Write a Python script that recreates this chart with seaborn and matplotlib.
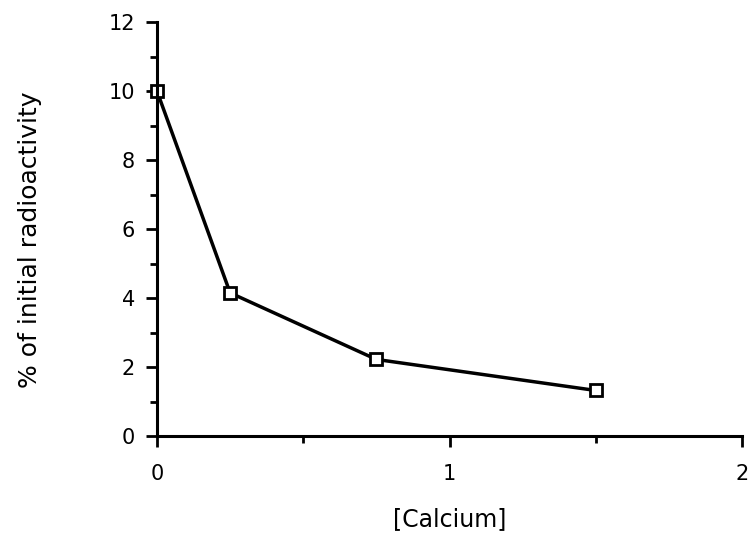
import matplotlib
matplotlib.use("Agg")
import matplotlib.pyplot as plt
import seaborn as sns
import pandas as pd
from matplotlib.ticker import MultipleLocator

calcium = [0.0, 0.25, 0.75, 1.5]
radioactivity = [10.0, 4.15, 2.22, 1.32]
x_ticks = [0, 1, 2]
y_ticks = [0, 2, 4, 6, 8, 10, 12]

sns.set_style("ticks")
plt.rcParams['font.family'] = ['DejaVu Sans']
plt.rcParams['text.color'] = 'black'
plt.rcParams['axes.labelcolor'] = 'black'
plt.rcParams['xtick.color'] = 'black'
plt.rcParams['ytick.color'] = 'black'

df = pd.DataFrame({"Calcium": calcium, "Radio": radioactivity})

fig = plt.figure(figsize=(7.49, 5.4), dpi=100)
ax = fig.add_axes([0.2096, 0.1926, 0.7811, 0.7664])
sns.lineplot(data=df, x="Calcium", y="Radio", ax=ax, color="black", linewidth=2.5,
             marker="s", markersize=8, markerfacecolor="white", markeredgecolor="black",
             markeredgewidth=2)

ax.set_xlim(0, 2)
ax.set_ylim(0, 12)
ax.set_xticks(x_ticks)
ax.set_xticklabels([str(t) for t in x_ticks])
ax.set_yticks(y_ticks)
ax.set_yticklabels([str(t) for t in y_ticks])
ax.xaxis.set_minor_locator(MultipleLocator(0.5))
ax.yaxis.set_minor_locator(MultipleLocator(1))
ax.tick_params(which="major", length=8, width=2, labelsize=15, pad=12, color="black", labelcolor="black")
ax.tick_params(which="minor", length=5, width=2, color="black")
ax.tick_params(axis="y", pad=8)
for s in ["top", "right"]:
    ax.spines[s].set_visible(False)
for s in ["left", "bottom"]:
    ax.spines[s].set_linewidth(2.2)
    ax.spines[s].set_color("black")
ax.set_xlabel("[Calcium]", fontsize=17, color="black")
ax.set_ylabel("% of initial radioactivity", fontsize=18, color="black")
ax.xaxis.set_label_coords(0.5, -0.172)
ax.yaxis.set_label_coords(-0.197, 0.473)
for m in ax.get_lines():
    m.set_clip_on(False)

fig.savefig("out.png", dpi=100)
